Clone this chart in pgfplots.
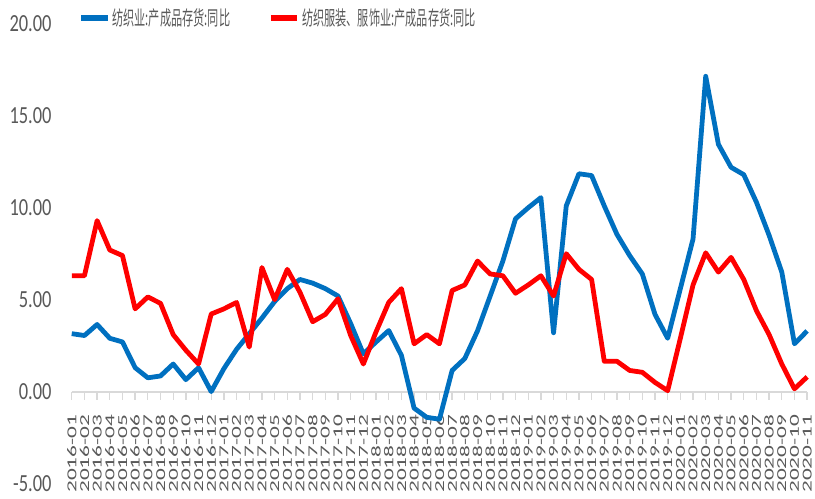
\documentclass[border=0pt]{standalone}
\usepackage{fontspec}
\usepackage{pgfplots}
\usepackage{pgfplotstable}
\pgfplotsset{compat=1.18}
\setmainfont{Carlito}
\newfontfamily\xfont[FakeStretch=1.7]{Carlito}
\newfontfamily\yfont[FakeStretch=0.75]{Carlito}
\newfontfamily\cjk[FakeStretch=0.56]{Noto Sans CJK SC}
\definecolor{sblue}{HTML}{0070C0}
\definecolor{sred}{HTML}{FF0000}
\definecolor{axgray}{HTML}{D9D9D9}
\definecolor{txtgray}{HTML}{595959}

\pgfplotstableread{
i blue red
0 3.15 6.30
1 3.05 6.30
2 3.65 9.30
3 2.90 7.70
4 2.70 7.40
5 1.30 4.50
6 0.75 5.15
7 0.85 4.80
8 1.50 3.10
9 0.65 2.25
10 1.30 1.50
11 0.00 4.22
12 1.25 4.50
13 2.30 4.85
14 3.15 2.42
15 4.00 6.75
16 4.90 5.00
17 5.60 6.65
18 6.10 5.40
19 5.90 3.80
20 5.60 4.20
21 5.20 5.05
22 3.70 3.05
23 2.05 1.50
24 2.70 3.25
25 3.32 4.85
26 1.97 5.60
27 -0.90 2.60
28 -1.40 3.10
29 -1.50 2.60
30 1.15 5.50
31 1.80 5.80
32 3.30 7.10
33 5.20 6.40
34 7.10 6.30
35 9.40 5.35
36 10.00 5.80
37 10.55 6.30
38 3.20 5.20
39 10.10 7.50
40 11.85 6.65
41 11.75 6.10
42 10.10 1.65
43 8.55 1.65
44 7.40 1.15
45 6.40 1.05
46 4.20 0.50
47 2.90 0.05
48 5.60 2.90
49 8.30 5.80
50 17.15 7.55
51 13.45 6.50
52 12.20 7.30
53 11.80 6.10
54 10.30 4.40
55 8.50 3.10
56 6.50 1.50
57 2.60 0.15
58 3.30 0.80
}\datatable

\begin{document}
\begin{tikzpicture}
\begin{axis}[
  width=553.5pt, height=345.94pt, scale only axis,
  xmin=0, xmax=58, ymin=-5, ymax=20,
  clip=false,
  axis x line*=middle, axis y line*=left,
  x axis line style={draw=axgray, line width=1.5pt},
  y axis line style={draw=none},
  xtick={0,...,58},
  xticklabels={2016-01,2016-02,2016-03,2016-04,2016-05,2016-06,2016-07,2016-08,2016-09,2016-10,2016-11,2016-12,
    2017-01,2017-02,2017-03,2017-04,2017-05,2017-06,2017-07,2017-08,2017-09,2017-10,2017-11,2017-12,
    2018-01,2018-02,2018-03,2018-04,2018-05,2018-06,2018-07,2018-08,2018-09,2018-10,2018-11,2018-12,
    2019-01,2019-02,2019-03,2019-04,2019-05,2019-06,2019-07,2019-08,2019-09,2019-10,2019-11,2019-12,
    2020-01,2020-02,2020-03,2020-04,2020-05,2020-06,2020-07,2020-08,2020-09,2020-10,2020-11},
  x tick label style={rotate=90, anchor=east, font=\xfont\fontsize{10.3}{10.3}\selectfont, text=txtgray, inner sep=0.3pt},
  xticklabel shift=11pt,
  xtick style={draw=axgray, line width=1pt},
  tick align=outside,
  major tick length=6pt,
  ytick={-5,0,5,10,15,20},
  ytick style={draw=none},
  hide obscured y ticks=false,
  hide obscured x ticks=false,
  yticklabel={\pgfmathprintnumber[fixed,fixed zerofill,precision=2]{\tick}},
  /pgf/number format/assume math mode=true,
  y tick label style={font=\yfont\fontsize{18.5}{18.5}\selectfont, text=txtgray, anchor=east, inner sep=0pt, xshift=-9pt},
  legend style={at={(axis description cs:0.003,1.013)}, anchor=west, draw=none, fill=none,
    legend columns=2, font=\cjk\fontsize{15}{15}\selectfont, text=txtgray,
    /tikz/every even column/.append style={column sep=27pt},
    nodes={inner sep=1.5pt}},
  legend image code/.code={\draw[#1, line width=4.2pt] (0pt,0pt) -- (20pt,0pt);},
]
\addplot[sblue, line width=3.6pt, line join=round] table[x=i, y=blue] {\datatable};
\addlegendentry{纺织业:产成品存货:同比}
\addplot[sred, line width=3.6pt, line join=round] table[x=i, y=red] {\datatable};
\addlegendentry{纺织服装、服饰业:产成品存货:同比}
\coordinate (bbsw) at (axis cs:-5.659,-5.82);
\coordinate (bbne) at (axis cs:58.62,21.30);
\end{axis}
\pgfresetboundingbox
\useasboundingbox (bbsw) rectangle (bbne);
\end{tikzpicture}
\end{document}
